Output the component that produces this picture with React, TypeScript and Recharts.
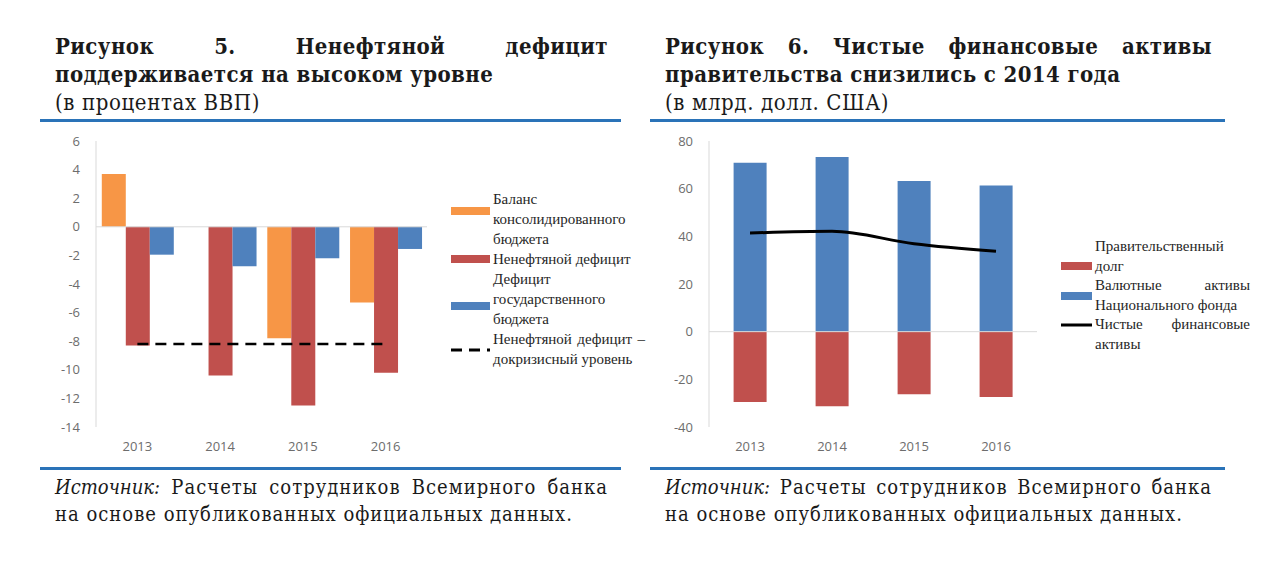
import React from 'react';
import {
  ComposedChart,
  Bar,
  Line,
  XAxis,
  YAxis,
  ReferenceLine,
  Legend,
} from 'recharts';

const years = ['2013', '2014', '2015', '2016'];

// Figure 5 (% of GDP)
const consolidatedBalance = [3.7, null, -7.8, -5.3];
const nonOilDeficit = [-8.3, -10.4, -12.5, -10.2];
const generalDeficit = [-1.95, -2.75, -2.2, -1.55];
const preCrisisNonOil = [-8.2, -8.2, -8.2, -8.2];
const leftTicks = [6, 4, 2, 0, -2, -4, -6, -8, -10, -12, -14];

// Figure 6 (bn USD)
const governmentDebt = [-29.5, -31.3, -26.3, -27.4];
const nationalFundFx = [70.9, 73.3, 63.2, 61.3];
const netFinancialAssets = [41.4, 42.1, 36.9, 33.7];
const rightTicks = [80, 60, 40, 20, 0, -20, -40];

const leftLegend = [
  { kind: 'bar', color: '#F79646', lines: ['Баланс', 'консолидированного', 'бюджета'] },
  { kind: 'bar', color: '#C0504D', lines: ['Ненефтяной дефицит'] },
  { kind: 'bar', color: '#4F81BD', lines: ['Дефицит', 'государственного', 'бюджета'] },
  { kind: 'dash', color: '#000', lines: ['Ненефтяной дефицит –', 'докризисный уровень'] },
];
const rightLegend = [
  { kind: 'bar', color: '#C0504D', lines: ['Правительственный', 'долг'] },
  { kind: 'bar', color: '#4F81BD', lines: ['Валютные активы', 'Национального фонда'] },
  { kind: 'line', color: '#000', lines: ['Чистые финансовые', 'активы'] },
];

// which text row (fractional) each legend key sits beside, as in the Excel legend
const leftKeyRows = [0.6, 0, 1.35, 0.55];
const rightKeyRows = [1, 0.5, 0];

const leftData = years.map((year, i) => ({
  year,
  balance: consolidatedBalance[i],
  nonOil: nonOilDeficit[i],
  deficit: generalDeficit[i],
  preCrisis: preCrisisNonOil[i],
}));

const rightData = years.map((year, i) => ({
  year,
  debt: governmentDebt[i],
  fx: nationalFundFx[i],
  net: netFinancialAssets[i],
}));

const SERIF = "'Liberation Serif', 'DejaVu Serif', serif";
const TITLE_FONT = "'DejaVu Serif Condensed', 'DejaVu Serif', serif";
const SANS = "'Open Sans', 'Noto Sans', sans-serif";
const RULE = '#2A73B8';
const AXIS_GRAY = '#D9D9D9';
const tickStyle = { fontSize: 13, fill: '#6d6d6d', fontFamily: SANS };

const justifyLine = (last: boolean): React.CSSProperties =>
  last
    ? { textAlign: 'left', whiteSpace: 'nowrap' }
    : { textAlign: 'justify', textAlignLast: 'justify', whiteSpace: 'nowrap' };

function Swatch({ kind, color, width }: { kind: string; color: string; width: number }) {
  if (kind === 'bar') return <div style={{ width, height: 8, background: color }} />;
  return (
    <svg width={width} height={8} style={{ display: 'block' }}>
      <line
        x1={0}
        y1={4}
        x2={width}
        y2={4}
        stroke={color}
        strokeWidth={3}
        strokeDasharray={kind === 'dash' ? '11 7' : undefined}
      />
    </svg>
  );
}

function makeLegend(items: typeof leftLegend, rows: number[], swatchW: number, textW: number, lineH: number) {
  return () => (
    <div style={{ fontFamily: SERIF, fontSize: 15, color: '#262626' }}>
      {items.map((it, i) => (
        <div key={it.lines.join(' ')} style={{ display: 'flex', alignItems: 'flex-start' }}>
          <div style={{ width: swatchW + 3, paddingTop: rows[i] * lineH + (lineH - 8) / 2 }}>
            <Swatch kind={it.kind} color={it.color} width={swatchW} />
          </div>
          <div style={{ width: textW }}>
            {it.lines.map((ln, j) => (
              <div key={j} style={{ ...justifyLine(j === it.lines.length - 1), lineHeight: `${lineH}px` }}>
                {ln}
              </div>
            ))}
          </div>
        </div>
      ))}
    </div>
  );
}

function Panel({
  left,
  width,
  title1,
  title2,
  unit,
  children,
}: {
  left: number;
  width: number;
  title1: string;
  title2: string;
  unit: string;
  children: React.ReactNode;
}) {
  const textW = width - 28;
  return (
    <>
      <div style={{ position: 'absolute', left: left + 15, top: 32, width: textW, color: '#1a1a1a' }}>
        <div style={{ fontFamily: TITLE_FONT, fontWeight: 'bold', fontSize: 22, letterSpacing: 0.4, lineHeight: '28px' }}>
          <div style={justifyLine(false)}>{title1}</div>
          <div style={justifyLine(true)}>{title2}</div>
        </div>
        <div style={{ fontFamily: TITLE_FONT, fontSize: 22, letterSpacing: 0.6, lineHeight: '30px' }}>{unit}</div>
      </div>
      <div style={{ position: 'absolute', left, top: 119, width, height: 3, background: RULE }} />
      {children}
      <div style={{ position: 'absolute', left, top: 467, width, height: 3, background: RULE }} />
      <div
        style={{
          position: 'absolute',
          left: left + 15,
          top: 474,
          width: textW,
          fontFamily: TITLE_FONT,
          fontSize: 20,
          letterSpacing: 1.0,
          lineHeight: '27px',
          color: '#1a1a1a',
        }}
      >
        <div style={justifyLine(false)}>
          <i style={{ letterSpacing: 0 }}>Источник:</i> Расчеты сотрудников Всемирного банка
        </div>
        <div style={justifyLine(true)}>на основе опубликованных официальных данных.</div>
      </div>
    </>
  );
}

export default function App() {
  return (
    <div style={{ position: 'absolute', left: 0, top: 0, width: 1288, height: 575, background: '#fff', overflow: 'hidden' }}>
      <Panel
        left={40}
        width={581}
        title1="Рисунок 5. Ненефтяной дефицит"
        title2="поддерживается на высоком уровне"
        unit="(в процентах ВВП)"
      >
        <div style={{ position: 'absolute', left: 40, top: 130 }}>
          <ComposedChart
            width={600}
            height={330}
            data={leftData}
            margin={{ top: 11, right: 213, left: 0, bottom: 0 }}
            barCategoryGap="7%"
            barGap={0}
          >
            <XAxis dataKey="year" tick={tickStyle} axisLine={false} tickLine={false} height={33} tickMargin={9} />
            <YAxis
              domain={[-14, 6]}
              ticks={leftTicks}
              tick={tickStyle}
              width={56}
              axisLine={{ stroke: AXIS_GRAY }}
              tickLine={false}
              tickMargin={10}
              interval={0}
            />
            <ReferenceLine y={0} stroke={AXIS_GRAY} />
            <Bar dataKey="balance" fill="#F79646" isAnimationActive={false} />
            <Bar dataKey="nonOil" fill="#C0504D" isAnimationActive={false} />
            <Bar dataKey="deficit" fill="#4F81BD" isAnimationActive={false} />
            <Line
              dataKey="preCrisis"
              stroke="#000"
              strokeWidth={2.5}
              strokeDasharray="11 7"
              dot={false}
              isAnimationActive={false}
            />
            <Legend
              layout="vertical"
              align="center"
              verticalAlign="middle"
              content={makeLegend(leftLegend, leftKeyRows, 39, 152, 20)}
              wrapperStyle={{ left: 411, top: 59, width: 200 }}
            />
          </ComposedChart>
        </div>
      </Panel>
      <Panel
        left={650}
        width={575}
        title1="Рисунок 6. Чистые финансовые активы"
        title2="правительства снизились с 2014 года"
        unit="(в млрд. долл. США)"
      >
        <div style={{ position: 'absolute', left: 650, top: 130 }}>
          <ComposedChart
            width={600}
            height={330}
            data={rightData}
            margin={{ top: 11, right: 213, left: 0, bottom: 0 }}
            barCategoryGap="30%"
            stackOffset="sign"
          >
            <XAxis dataKey="year" tick={tickStyle} axisLine={false} tickLine={false} height={33} tickMargin={9} />
            <YAxis
              domain={[-40, 80]}
              ticks={rightTicks}
              tick={tickStyle}
              width={59}
              axisLine={{ stroke: AXIS_GRAY }}
              tickLine={false}
              tickMargin={10}
              interval={0}
            />
            <ReferenceLine y={0} stroke={AXIS_GRAY} />
            <Bar dataKey="debt" stackId="a" fill="#C0504D" isAnimationActive={false} />
            <Bar dataKey="fx" stackId="a" fill="#4F81BD" isAnimationActive={false} />
            <Line
              type="monotone"
              dataKey="net"
              stroke="#000"
              strokeWidth={3}
              dot={false}
              isAnimationActive={false}
            />
            <Legend
              layout="vertical"
              align="center"
              verticalAlign="middle"
              content={makeLegend(rightLegend, rightKeyRows, 31, 155, 19.6)}
              wrapperStyle={{ left: 411, top: 107, width: 200 }}
            />
          </ComposedChart>
        </div>
      </Panel>
    </div>
  );
}
